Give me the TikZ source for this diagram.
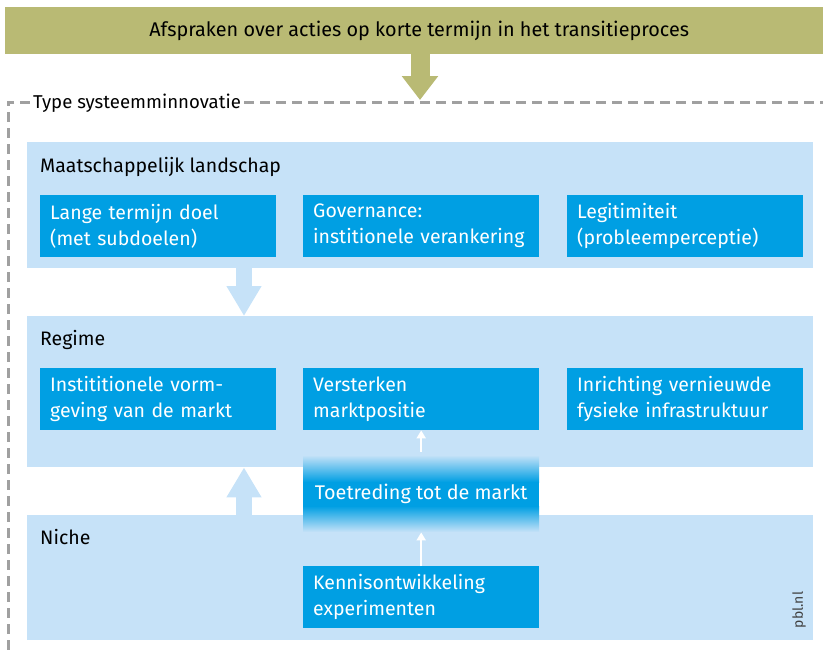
\documentclass[tikz,border=0pt]{standalone}
\usepackage{fontspec}
\setmainfont{Fira Sans}
\usetikzlibrary{arrows.meta,calc}
\definecolor{olive}{HTML}{B9BA74}
\definecolor{lightb}{HTML}{C6E2F8}
\definecolor{darkb}{HTML}{009FE3}
\definecolor{dashg}{HTML}{A0A0A0}
\tikzset{
  panel/.style={fill=lightb, draw=none},
  dbox/.style={fill=darkb, draw=none, minimum width=236pt, minimum height=62pt, text width=216pt, align=left, text=white, font=\fontsize{19.5}{26}\selectfont, inner sep=0pt},
  plabel/.style={anchor=base west, font=\fontsize{19.5}{22}\selectfont, inner sep=0pt},
  blockarrow/.style={draw=lightb, line width=16pt, -{Triangle[width=33pt,length=30pt]}, shorten >=0pt},
  whitearrow/.style={draw=white, line width=2pt, -{Triangle[width=9pt,length=8pt]}},
  dashline/.style={dashg, line width=3pt, dash pattern=on 10pt off 6pt},
}
\begin{document}
\begin{tikzpicture}[x=1pt,y=-1pt]
\useasboundingbox (0,0) rectangle (823,654);
% top band
\node[fill=olive, minimum width=818pt, minimum height=47pt, inner sep=0pt, anchor=north west] (top) at (5,7) {};
\node[font=\fontsize{19.8}{22}\selectfont, inner sep=0pt] (toptxt) at ($(top.center)+(5,0)$) {Afspraken over acties op korte termijn in het transitieproces};
% dashed frame
\node[anchor=base west, inner sep=3pt, font=\fontsize{18.6}{22}\selectfont] (ttl) at (30,108) {Type systeemminnovatie};
\coordinate (fr) at (823,102);
\coordinate (fl) at (8,102);
\coordinate (fb) at (8,654);
\draw[dashline] (ttl.east |- fr) -- (fr);
\draw[dashline] (ttl.west |- fl) -- (fl) -- (fb);
% olive arrow
\coordinate (oa) at (420,100);
\draw[olive, line width=19pt, -{Triangle[width=35pt,length=24pt]}] (top.south -| oa) -- (oa);
% panels
\node[panel, minimum width=786pt, minimum height=126pt, anchor=north west, inner sep=0pt] (land) at (27,142) {};
\node[panel, minimum width=786pt, minimum height=151pt, anchor=north west, inner sep=0pt] (reg) at (27,316) {};
\node[panel, minimum width=786pt, minimum height=125pt, anchor=north west, inner sep=0pt] (nic) at (27,515) {};
\node[plabel] (landl) at (40,172) {Maatschappelijk landschap};
\node[plabel] (regl) at (40,345) {Regime};
\node[plabel] (nicl) at (40,544) {Niche};
% block arrows
\coordinate (ax) at (244,0);
\draw[blockarrow] (land.south -| ax) -- (reg.north -| ax);
\draw[blockarrow] (nic.north -| ax) -- (reg.south -| ax);
% dark boxes row 1
\node[dbox, anchor=north west] (b1) at (40,195) {Lange termijn doel\\(met subdoelen)};
\node[dbox, anchor=north west] (b2) at (303,195) {Governance:\\institionele verankering};
\node[dbox, anchor=north west] (b3) at (567,195) {Legitimiteit\\(probleemperceptie)};
% row 2
\node[dbox, anchor=north west] (c1) at (40,368) {Instititionele vorm-\\geving van de markt};
\node[dbox, anchor=north west] (c2) at (303,368) {Versterken\\marktpositie};
\node[dbox, anchor=north west] (c3) at (567,368) {Inrichting vernieuwde\\fysieke infrastruktuur};
% gradient box
\shade[top color=lightb, bottom color=darkb] (303,455) rectangle (539,482);
\fill[darkb] (303,481.5) rectangle (539,506.5);
\shade[top color=darkb, bottom color=lightb] (303,506) rectangle (539,532);
\node[minimum width=236pt, minimum height=77pt, anchor=north west, inner sep=0pt, text=white, font=\fontsize{19.8}{22}\selectfont] (tt) at (303,455) {Toetreding tot de markt};
% niche box
\node[dbox, anchor=north west] (n1) at (303,566) {Kennisontwikkeling\\experimenten};
% white arrows
\draw[whitearrow] ($(tt.north)+(0,-3)$) -- (c2.south);
\draw[whitearrow] (n1.north) -- (tt.south);
% pbl
\node[rotate=90, anchor=south, font=\fontsize{14}{16}\selectfont, text=black!75, inner sep=0pt] (pbl) at (806,610) {pbl.nl};
\end{tikzpicture}
\end{document}
